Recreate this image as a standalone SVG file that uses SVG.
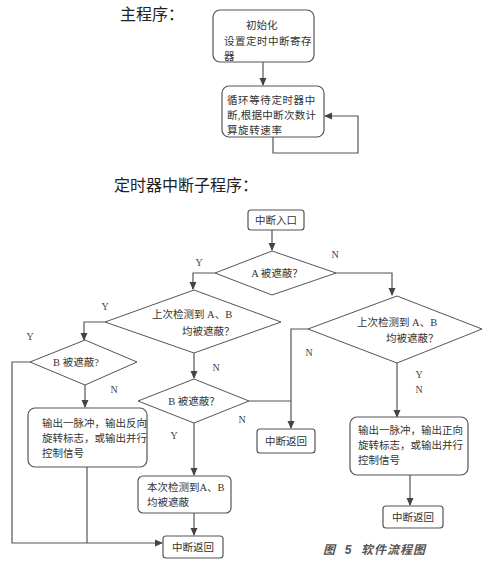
<svg xmlns="http://www.w3.org/2000/svg" width="484" height="565" viewBox="0 0 484 565">
<defs>
<marker id="ah" markerWidth="8" markerHeight="8" refX="7" refY="4" orient="auto" markerUnits="userSpaceOnUse">
<path d="M0,0.5 L8,4 L0,7.5 Z" fill="#444"/>
</marker>
<style>
.box{fill:#fff;stroke:#555;stroke-width:1.2}
.dia{fill:#fff;stroke:#555;stroke-width:1}
.con{fill:none;stroke:#555;stroke-width:1.2}
.arr{marker-end:url(#ah)}
.t{font-family:"Liberation Serif","Noto Sans CJK SC",serif;font-size:10.5px;fill:#333}
.c{text-anchor:middle}
.lb{font-family:"Liberation Serif","Noto Sans CJK SC",serif;font-size:10px;fill:#444;text-anchor:middle}
.h{font-family:"Liberation Serif","Noto Sans CJK SC",serif;font-size:16px;font-weight:400;fill:#222}
</style>
</defs>
<rect width="484" height="565" fill="#fff"/>
<text class="h" x="120" y="20">主程序：</text>
<text class="h" x="114" y="191">定时器中断子程序：</text>

<g id="connectors">
<path class="con arr" d="M263,62 V85"/>
<path class="con arr" d="M273,137 V153 H358 V116 H325"/>
<path class="con arr" d="M272,230 V250"/>
<path class="con arr" d="M215,273 H193 V289"/>
<path class="con arr" d="M336,273 H392 V295"/>
<path class="con arr" d="M105,322 H84 V340"/>
<path class="con arr" d="M194,353 V378"/>
<path class="con arr" d="M30,362 H12 V543 H162"/>
<path class="con arr" d="M85,385 V407"/>
<path class="con" d="M87,467 V543"/>
<path class="con arr" d="M308,329 H291 V428"/>
<path class="con" d="M249,401 H291"/>
<path class="con arr" d="M194,423 V475"/>
<path class="con arr" d="M194,513 V535"/>
<path class="con arr" d="M397,363 V417"/>
<path class="con arr" d="M410,475 V505"/>
</g>

<g id="init">
<rect class="box" x="213" y="10" width="101" height="52" rx="7"/>
<text class="t" x="246" y="29">初始化</text>
<text class="t" x="224" y="45" letter-spacing="0.5">设置定时中断寄存</text>
<text class="t" x="224" y="60">器</text>
</g>
<g id="loop">
<rect class="box" x="222" y="86" width="102" height="51" rx="7"/>
<text class="t" x="227" y="104" letter-spacing="0.6">循环等待定时器中</text>
<text class="t" x="227" y="119" letter-spacing="0.3">断,根据中断次数计</text>
<text class="t" x="227" y="134" letter-spacing="0.6">算旋转速率</text>
</g>

<g id="entry">
<rect class="box" x="248" y="210" width="56" height="20" rx="3"/>
<text class="t c" x="276" y="224">中断入口</text>
</g>
<g id="decA">
<polygon class="dia" points="272,251 336,273 272,295 215,273"/>
<text class="t c" x="277" y="277">A 被遮蔽？</text>
</g>
<g id="decAB1">
<polygon class="dia" points="194,290 281,322 194,353 105,322"/>
<text class="t" x="152" y="318">上次检测到 A、B</text>
<text class="t" x="182" y="335">均被遮蔽？</text>
</g>
<g id="decB1">
<polygon class="dia" points="85,340 137,362 85,385 30,362"/>
<text class="t c" x="76" y="366">B 被遮蔽?</text>
</g>
<g id="outRev">
<rect class="box" x="28" y="408" width="119" height="59" rx="7"/>
<text class="t" x="42" y="427">输出一脉冲，输出反向</text>
<text class="t" x="42" y="442">旋转标志，或输出并行</text>
<text class="t" x="42" y="457">控制信号</text>
</g>
<g id="decB2">
<polygon class="dia" points="194,379 249,401 194,423 138,401"/>
<text class="t c" x="194" y="405">B 被遮蔽？</text>
</g>
<g id="both">
<rect class="box" x="138" y="476" width="93" height="37" rx="5"/>
<text class="t" x="147" y="491">本次检测到A、B</text>
<text class="t" x="147" y="506">均被遮蔽</text>
</g>
<g id="ret1">
<rect class="box" x="163" y="536" width="60" height="22" rx="3"/>
<text class="t c" x="193" y="551">中断返回</text>
</g>
<g id="decAB2">
<polygon class="dia" points="397,296 482,329 397,363 308,329"/>
<text class="t" x="357" y="326">上次检测到 A、B</text>
<text class="t" x="386" y="342">均被遮蔽？</text>
</g>
<g id="ret2">
<rect class="box" x="257" y="429" width="58" height="24" rx="3"/>
<text class="t c" x="286" y="445">中断返回</text>
</g>
<g id="outFwd">
<rect class="box" x="350" y="417" width="118" height="58" rx="7"/>
<text class="t" x="358" y="434">输出一脉冲，输出正向</text>
<text class="t" x="358" y="449">旋转标志，或输出并行</text>
<text class="t" x="358" y="464">控制信号</text>
</g>
<g id="ret3">
<rect class="box" x="383" y="506" width="60" height="22" rx="3"/>
<text class="t c" x="413" y="521">中断返回</text>
</g>

<g id="labels">
<text class="lb" x="199" y="266">Y</text>
<text class="lb" x="335" y="258">N</text>
<text class="lb" x="105" y="310">Y</text>
<text class="lb" x="216" y="371">N</text>
<text class="lb" x="30" y="340">Y</text>
<text class="lb" x="114" y="393">N</text>
<text class="lb" x="242" y="423">N</text>
<text class="lb" x="174" y="439">Y</text>
<text class="lb" x="309" y="356">N</text>
<text class="lb" x="419" y="378">Y</text>
<text class="lb" x="419" y="393">N</text>
</g>
<text x="323" y="554" font-family="'Liberation Sans','Noto Sans CJK SC',sans-serif" font-size="12" font-style="italic" font-weight="bold" fill="#555" xml:space="preserve" letter-spacing="1">图  5  软件流程图</text>
</svg>
